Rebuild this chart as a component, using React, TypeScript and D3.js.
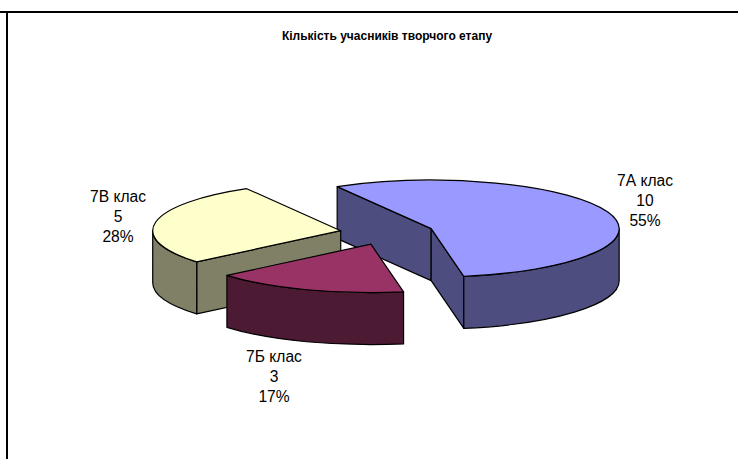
import React from 'react';
import * as d3 from 'd3';

// chart data
const categories = ['7А клас', '7Б клас', '7В клас'];
const values = [10, 3, 5];
const percents = ['55%', '17%', '28%'];
const topColors = ['#9999ff', '#993366', '#ffffcc'];
const wallColors = ['#4d4d80', '#4d1a33', '#808066'];
const title = 'Кількість учасників творчого етапу';

// drawn back to front: blue, yellow, maroon
const drawOrder = [0, 2, 1];

const width = 738;
const height = 459;
const cx = 387;
const cy = 232.8;
const rx = 188;
const ry = 48.5;
const depth = 52;
const explode = 0.25;
const rotation = (-30 * Math.PI) / 180;

const slices = d3
  .pie<number>()
  .sort(null)
  .startAngle(rotation)
  .endAngle(rotation + 2 * Math.PI)(values);

const labelPos = [
  { x: 645, y: 186 },
  { x: 274, y: 362 },
  { x: 118, y: 202 },
];

const App: React.FC = () => {
  const renderSlice = (i: number) => {
    const s = slices[i];
    const mid = (s.startAngle + s.endAngle) / 2;
    const ox = cx + explode * rx * Math.sin(mid);
    const oy = cy - explode * ry * Math.cos(mid);
    const pt = (t: number, dz = 0): [number, number] => [
      ox + rx * Math.sin(t),
      oy - ry * Math.cos(t) + dz,
    ];

    // flat side faces, only those turned to the viewer
    const face = (t: number) => {
      const p = d3.path();
      p.moveTo(ox, oy);
      p.lineTo(...pt(t));
      p.lineTo(...pt(t, depth));
      p.lineTo(ox, oy + depth);
      p.closePath();
      return p.toString();
    };
    const faces: string[] = [];
    if (Math.sin(s.startAngle) < 0) faces.push(face(s.startAngle));
    if (Math.sin(s.endAngle) > 0) faces.push(face(s.endAngle));

    // outer wall, front half of the ellipse only
    const a0 = Math.max(s.startAngle, Math.PI / 2);
    const a1 = Math.min(s.endAngle, (3 * Math.PI) / 2);
    let wall: string | null = null;
    if (a1 > a0) {
      const [x0, y0] = pt(a0);
      const [x1, y1] = pt(a1);
      wall =
        `M${x0},${y0}A${rx},${ry} 0 0 1 ${x1},${y1}` +
        `L${x1},${y1 + depth}A${rx},${ry} 0 0 0 ${x0},${y0 + depth}Z`;
    }

    const [sx, sy] = pt(s.startAngle);
    const [ex, ey] = pt(s.endAngle);
    const large = s.endAngle - s.startAngle > Math.PI ? 1 : 0;
    const top = `M${ox},${oy}L${sx},${sy}A${rx},${ry} 0 ${large} 1 ${ex},${ey}Z`;

    return (
      <g key={categories[i]} stroke="#000" strokeWidth={1.2} strokeLinejoin="round">
        {faces.map((d) => (
          <path key={d} d={d} fill={wallColors[i]} />
        ))}
        {wall && <path d={wall} fill={wallColors[i]} />}
        <path d={top} fill={topColors[i]} />
      </g>
    );
  };

  return (
    <svg
      width={width}
      height={height}
      style={{ position: 'absolute', left: 0, top: 0, background: '#fff' }}
      fontFamily="'Liberation Sans', Arial, sans-serif"
    >
      <line x1={0} x2={width} y1={12} y2={12} stroke="#000" strokeWidth={2} />
      <line x1={7} x2={7} y1={12} y2={height} stroke="#000" strokeWidth={2} />

      <text x={387} y={40} textAnchor="middle" fontSize={12} fontWeight="bold">
        {title}
      </text>

      {drawOrder.map(renderSlice)}

      {categories.map((c, i) => (
        <text key={c} textAnchor="middle" fontSize={15.6} fill="#000">
          <tspan x={labelPos[i].x} y={labelPos[i].y}>{c}</tspan>
          <tspan x={labelPos[i].x} y={labelPos[i].y + 20}>{values[i]}</tspan>
          <tspan x={labelPos[i].x} y={labelPos[i].y + 40}>{percents[i]}</tspan>
        </text>
      ))}
    </svg>
  );
};

export default App;
